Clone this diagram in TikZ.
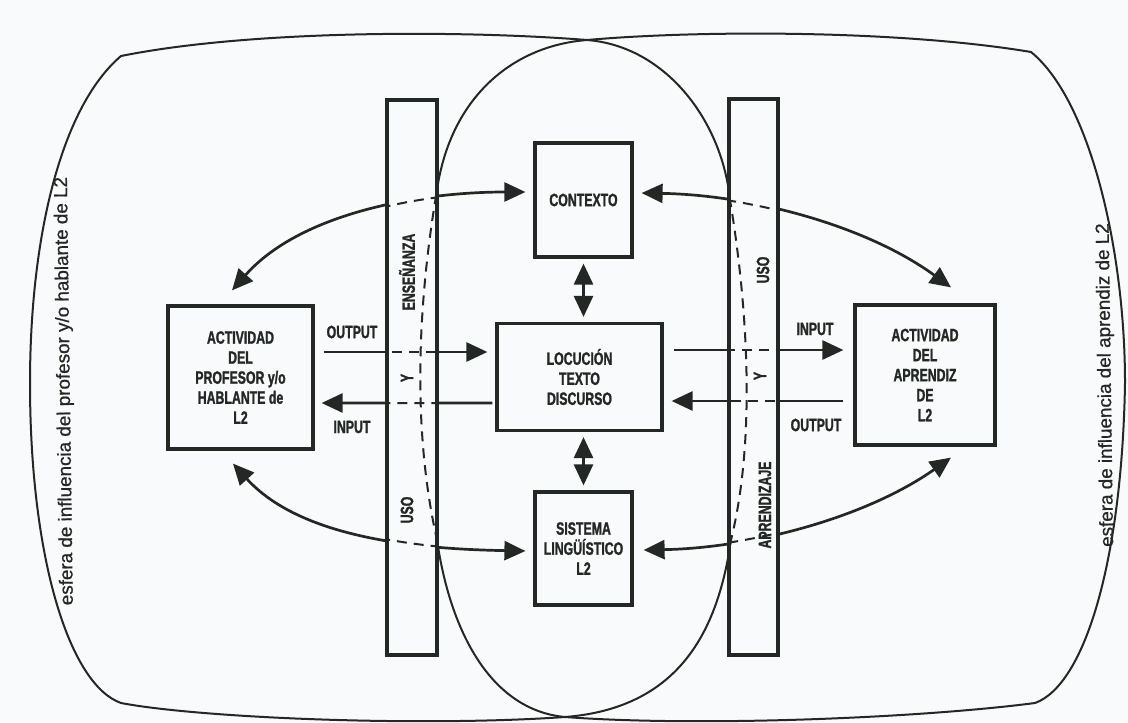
\documentclass[tikz,border=0pt]{standalone}
\usepackage{fontspec}
\setmainfont{Liberation Sans}
\newfontfamily\narrowfont[FakeStretch=0.69, FakeBold=1.3]{Liberation Sans Bold}
\newfontfamily\sidefont[FakeBold=0.8]{Liberation Sans}
\usetikzlibrary{arrows.meta}

\definecolor{paper}{RGB}{248,250,251}
\definecolor{ink}{RGB}{36,40,36}

\newcommand\boxlabel{\narrowfont\fontsize{25.4}{28.5}\selectfont}
\newcommand\sidelabel{\sidefont\fontsize{26.8}{30}\selectfont}

\tikzset{
  bigtip/.tip={Triangle[length=10.5mm, width=9.5mm]},
  sphereline/.style={draw=ink, line width=1mm},
  textbox/.style={draw=ink, line width=1.6mm, align=center, inner sep=0pt, text=ink, font=\boxlabel},
  colbar/.style={draw=ink, line width=1.6mm, fill=paper, inner sep=0pt},
  coltext/.style={text=ink, font=\boxlabel, inner sep=0pt, rotate=90},
  flowlabel/.style={text=ink, font=\boxlabel, inner sep=0pt},
  sidetext/.style={text=ink, font=\sidelabel, inner sep=0pt, rotate=90.8},
  oneway/.style={draw=ink, line width=1.35mm, -bigtip},
  twoway/.style={draw=ink, line width=1.35mm, bigtip-bigtip},
  dashpass/.style={arrows=-, line width=1mm, dash pattern=on 5mm off 3.5mm}
}

\newcommand\leftsphere{(121,56) .. controls (250,30) and (460,30) .. (587,40)
  .. controls (665,46) and (722,120) .. (730,200)
  .. controls (745,290) and (758,430) .. (731,540)
  .. controls (718,630) and (680,708) .. (565,717)
  .. controls (420,727) and (200,718) .. (121,703)
  .. controls (70,685) and (30,560) .. (30,383)
  .. controls (30,240) and (60,108) .. (121,56) -- cycle}

\newcommand\rightsphere{(1031,52) .. controls (900,30) and (700,30) .. (587,40)
  .. controls (510,46) and (450,100) .. (437,190)
  .. controls (420,290) and (410,420) .. (437,540)
  .. controls (450,630) and (490,710) .. (565,717)
  .. controls (700,727) and (920,718) .. (1035,703)
  .. controls (1085,685) and (1122,560) .. (1125,383)
  .. controls (1125,250) and (1090,100) .. (1031,52) -- cycle}

\newcommand\linkset[1]{%
  \draw[oneway,#1] ([shift={(9,-25.5)}]prof.east) -- ([shift={(-8,-25)}]loc.west);
  \draw[oneway,#1] ([shift={(-3,26)}]loc.west) -- ([shift={(7,25.5)}]prof.east);
  \draw[oneway,#1] ([shift={(10,-27)}]loc.east) -- ([shift={(-10,-25)}]apr.west);
  \draw[oneway,#1] ([shift={(-10,26)}]apr.west) -- ([shift={(8,24)}]loc.east);
  \draw[twoway,#1] ([shift={(-8,-8)}]ctx.west) .. controls +(-107,0) and +(68,-77) .. ([shift={(-8.5,-14)}]prof.north);
  \draw[twoway,#1] ([shift={(8,-7)}]ctx.east) .. controls +(110,2) and +(-85,-62) .. ([shift={(26,-16)}]apr.north);
  \draw[twoway,#1] ([shift={(-8,2.5)}]sis.west) .. controls +(-107,-2) and +(68,75) .. ([shift={(-7.5,13)}]prof.south);
  \draw[twoway,#1] ([shift={(10,1.5)}]sis.east) .. controls +(108,-2) and +(-85,60) .. ([shift={(26,11)}]apr.south);
}

\begin{document}
\begin{tikzpicture}[x=0.5mm, y=-0.5mm]
  \fill[paper] (0,0) rectangle (1128,722);
  \useasboundingbox (0,0) rectangle (1128,722);

  \draw[sphereline] \leftsphere;
  \draw[sphereline] \rightsphere;

  \node[textbox, minimum width=72.5mm, minimum height=71.5mm] (prof) at (240.5,377.5) {ACTIVIDAD\\DEL\\PROFESOR y/o\\HABLANTE de\\L2};
  \node[textbox, minimum width=82.5mm, minimum height=53.5mm] (loc) at (579.5,377) {LOCUCIÓN\\TEXTO\\DISCURSO};
  \node[textbox, minimum width=48.5mm, minimum height=57mm] (ctx) at (583.5,200) {CONTEXTO};
  \node[textbox, minimum width=48.5mm, minimum height=56.5mm] (sis) at (583.5,548.5) {SISTEMA\\LINGÜÍSTICO\\L2};
  \node[textbox, minimum width=70mm, minimum height=70mm] (apr) at (925,375) {ACTIVIDAD\\DEL\\APRENDIZ\\DE\\L2};

  \linkset{}
  \draw[twoway, shorten <=2.5mm, shorten >=2.5mm] (ctx.south) -- (ctx.south |- loc.north);
  \draw[twoway, shorten <=2.5mm, shorten >=2.5mm] (sis.north |- loc.south) -- (sis.north);

  \node[colbar, minimum width=25mm, minimum height=277.5mm] (ens) at (412,377.5) {};
  \node[colbar, minimum width=24.5mm, minimum height=278mm] (uso) at (753.5,377) {};

  \begin{scope}
    \clip (ens.south west) rectangle (ens.north east) (uso.south west) rectangle (uso.north east);
    \draw[sphereline, dashpass] \leftsphere;
    \draw[sphereline, dashpass] \rightsphere;
    \linkset{dashpass}
  \end{scope}

  \node[coltext] (ensword) at (407,272) {ENSEÑANZA};
  \node[coltext] (ensand) at (407,378) {Y};
  \node[coltext] (ensuse) at (407,510) {USO};
  \node[coltext] (usoword) at (763,270) {USO};
  \node[coltext] (usoand) at (760,376) {Y};
  \node[coltext] (usolearn) at (765,505) {APRENDIZAJE};

  \node[flowlabel] (outleft) at (352,332) {OUTPUT};
  \node[flowlabel] (inleft) at (352,427) {INPUT};
  \node[flowlabel] (inright) at (815,329) {INPUT};
  \node[flowlabel] (outright) at (816,425) {OUTPUT};

  \node[sidetext] (profsphere) at (65,391) {esfera de influencia del profesor y/o hablante de L2};
  \node[sidetext] (aprsphere) at (1106,385) {esfera de influencia del aprendiz de L2};
\end{tikzpicture}
\end{document}
